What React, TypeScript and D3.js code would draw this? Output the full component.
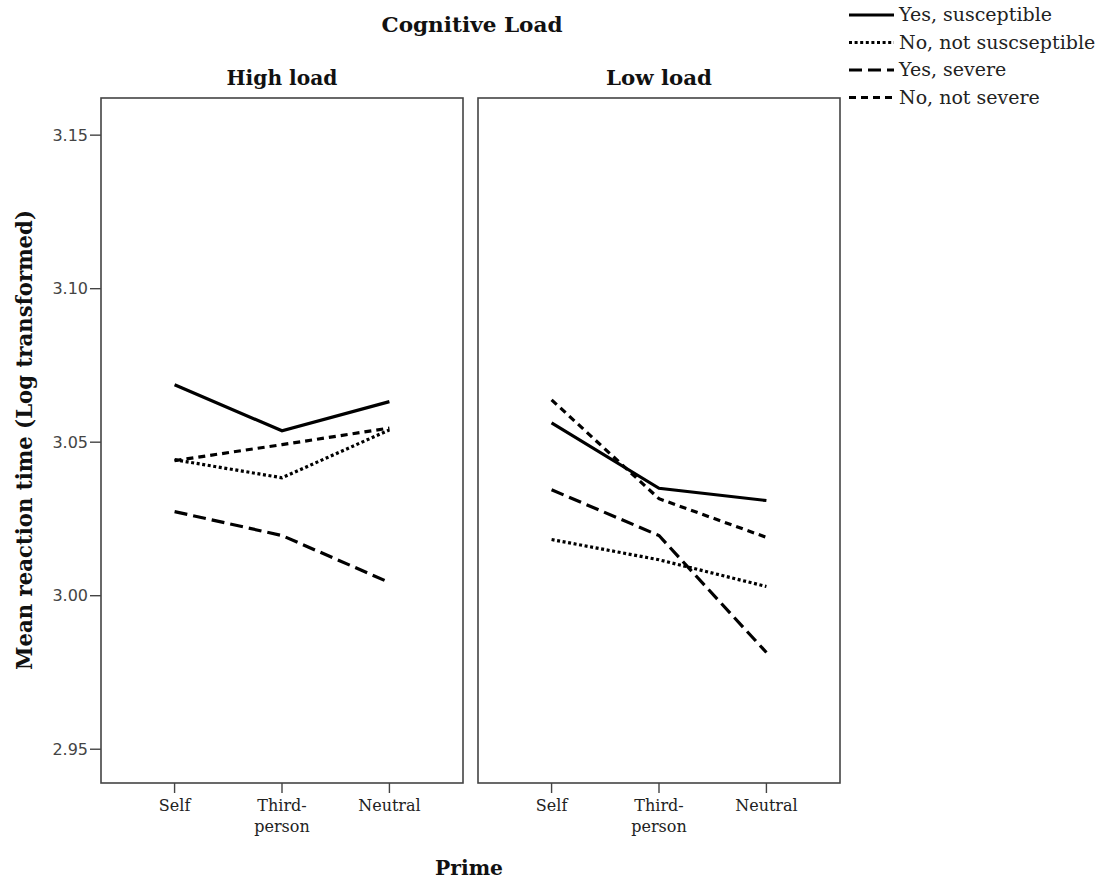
import React from "react";
import * as d3 from "d3";

const primes = ["Self", "Third-person", "Neutral"];
const panels = ["High load", "Low load"];
const seriesNames = ["Yes, susceptible", "No, not suscseptible", "Yes, severe", "No, not severe"];
// values[panel][series][prime]
const highLoad = [
  [3.0687, 3.0537, 3.0632],
  [3.0443, 3.0384, 3.0540],
  [3.0274, 3.0196, 3.0043],
  [3.0440, 3.0492, 3.0546],
];
const lowLoad = [
  [3.0563, 3.0350, 3.0310],
  [3.0183, 3.0117, 3.0030],
  [3.0345, 3.0196, 2.9815],
  [3.0638, 3.0316, 3.0190],
];
const yTicks = [2.95, 3.0, 3.05, 3.1, 3.15];
const dashes = ["none", "3,2.6", "13,6", "7,5"];

const W = 1109;
const H = 883;
const top = 98;
const bottom = 783;
const panelX = [101, 478];
const panelW = 362;

export default function App() {
  const y = d3.scaleLinear().domain([2.939, 3.1621]).range([bottom, top]);
  const x = d3.scalePoint<string>().domain(primes).range([0, panelW]).padding(0.685);
  const line = d3
    .line<number>()
    .x((_, i) => x(primes[i]) as number)
    .y((d) => y(d));
  const data = [highLoad, lowLoad];
  const serif = "'DejaVu Serif', serif";
  return (
    <svg width={W} height={H} style={{ position: "absolute", left: 0, top: 0, background: "#fff" }}>
      <rect x={0} y={0} width={W} height={H} fill="#fff" />
      <text x={472} y={32} textAnchor="middle" fontFamily={serif} fontWeight="bold" fontSize={20} textLength={181} lengthAdjust="spacingAndGlyphs" fill="#111">
        Cognitive Load
      </text>
      {panels.map((p, pi) => (
        <g key={p} transform={`translate(${panelX[pi]},0)`}>
          <text x={panelW / 2} y={85} textAnchor="middle" fontFamily={serif} fontWeight="bold" fontSize={20} fill="#111" textLength={pi === 0 ? 111 : 106} lengthAdjust="spacingAndGlyphs">
            {p}
          </text>
          <rect x={0} y={top} width={panelW} height={bottom - top} fill="none" stroke="#444" strokeWidth={1.6} />
          {primes.map((c) => {
            const cx = x(c) as number;
            const parts = c === "Third-person" ? ["Third-", "person"] : [c];
            return (
              <g key={c}>
                <line x1={cx} x2={cx} y1={bottom} y2={bottom + 10} stroke="#444" strokeWidth={1.4} />
                {parts.map((t, ti) => (
                  <text key={t} x={cx} y={811 + ti * 21} textAnchor="middle" fontFamily={serif} fontSize={16} fill="#222">
                    {t}
                  </text>
                ))}
              </g>
            );
          })}
          {data[pi].map((s, si) => (
            <path key={si} d={line(s) || ""} fill="none" stroke="#000" strokeWidth={3.2} strokeDasharray={dashes[si]} />
          ))}
        </g>
      ))}
      {yTicks.map((t) => (
        <g key={t}>
          <line x1={90} x2={101} y1={y(t)} y2={y(t)} stroke="#444" strokeWidth={1.4} />
          <text x={88} y={y(t) + 5.5} textAnchor="end" fontFamily="'DejaVu Sans', sans-serif" fontSize={16} fill="#444">
            {d3.format(".2f")(t)}
          </text>
        </g>
      ))}
      <text transform={`translate(32,440) rotate(-90)`} textAnchor="middle" fontFamily={serif} fontWeight="bold" fontSize={22} fill="#111" textLength={460} lengthAdjust="spacingAndGlyphs">
        Mean reaction time (Log transformed)
      </text>
      <text x={469} y={875} textAnchor="middle" fontFamily={serif} fontWeight="bold" fontSize={21} fill="#111" textLength={68} lengthAdjust="spacingAndGlyphs">
        Prime
      </text>
      {seriesNames.map((n, i) => {
        const by = 21 + i * 27.5;
        return (
          <g key={n}>
            <line x1={849} x2={894} y1={by - 6} y2={by - 6} stroke="#000" strokeWidth={3.2} strokeDasharray={dashes[i]} />
            <text x={899} y={by} fontFamily={serif} fontSize={19} fill="#222">
              {n}
            </text>
          </g>
        );
      })}
    </svg>
  );
}
